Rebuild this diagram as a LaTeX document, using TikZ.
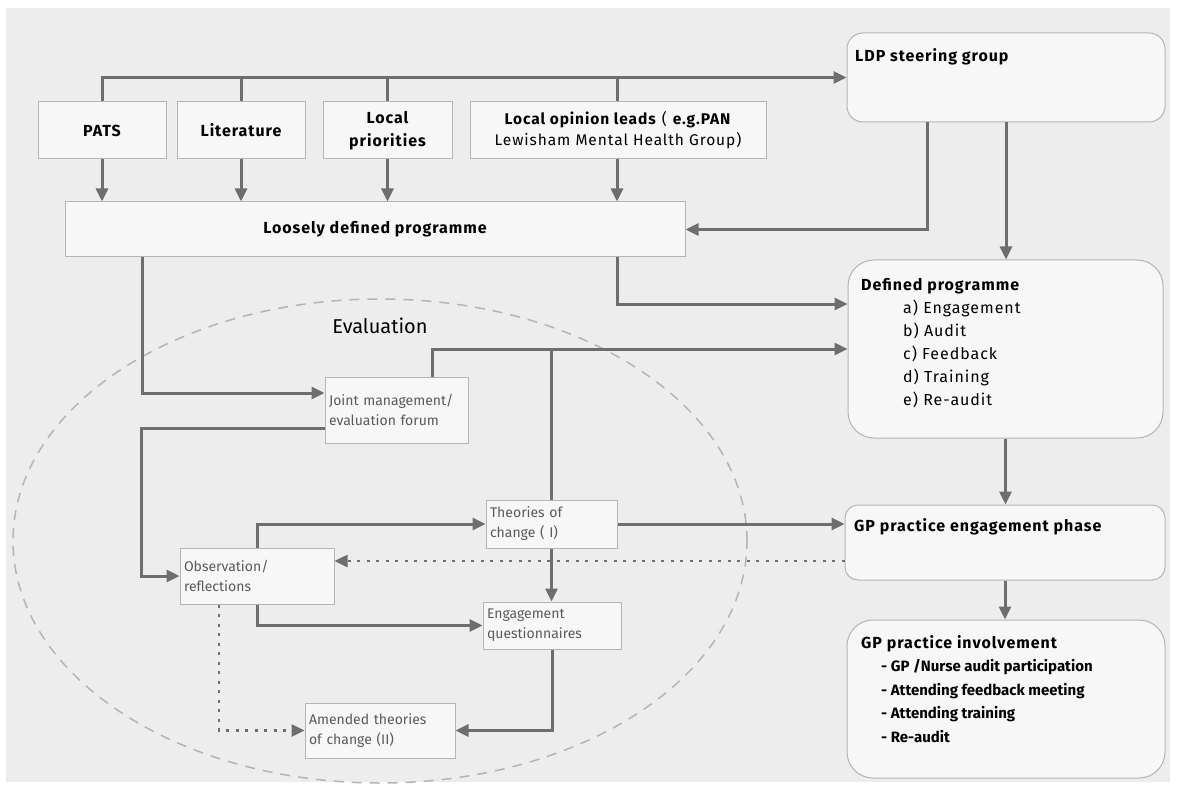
\documentclass[tikz,border=0pt]{standalone}
\usepackage{fontspec}
\setmainfont{Fira Sans}
\newfontfamily\widefont[LetterSpace=6]{Fira Sans}
\usetikzlibrary{arrows.meta}
\definecolor{bgcol}{HTML}{EDEDED}
\definecolor{boxfill}{HTML}{F7F7F7}
\definecolor{boxedge}{HTML}{B4B4B4}
\definecolor{arrcol}{HTML}{6E6E6E}
\definecolor{evaltext}{HTML}{5A5A5A}
\tikzset{
  sq/.style={draw=boxedge, fill=boxfill, line width=1pt, inner sep=0pt, align=center},
  rbox/.style={draw=boxedge, fill=boxfill, line width=1pt, rounded corners=16pt, inner sep=0pt},
  evalbox/.style={draw=boxedge, fill=boxfill, line width=1pt, inner sep=4pt, align=left,
     font=\fontsize{14}{20}\selectfont, text=evaltext},
  link/.style={draw=arrcol, line width=3pt},
  arr/.style={draw=arrcol, line width=3pt, -{Triangle[length=13pt,width=12pt]}},
  dotarr/.style={draw=arrcol, line width=2.5pt, dash pattern=on 3pt off 6.5pt, -{Triangle[length=13pt,width=12pt]}},
  boldtxt/.style={font=\widefont\fontsize{16}{23}\selectfont\bfseries},
  titletxt/.style={boldtxt, inner sep=0pt, anchor=west},
  listtxt/.style={font=\widefont\fontsize{16}{23}\selectfont, inner sep=0pt, anchor=north west, align=left},
}
\begin{document}
\begin{tikzpicture}[x=1pt, y=-1pt]
\useasboundingbox (0,0) rectangle (1177,786);
\fill[white] (0,0) rectangle (1177,786);
\fill[bgcol] (6,8) rectangle (1170,782);

% evaluation ellipse
\draw[boxedge, line width=1.5pt, dash pattern=on 10pt off 8pt] (380,541) ellipse [x radius=367pt, y radius=242pt];
\node[font=\fontsize{20}{22}\selectfont, inner sep=0pt] (evl) at (380,326) {Evaluation};

% top source boxes
\node[sq, boldtxt, minimum width=128pt, minimum height=57pt] (pats) at (102,130.5) {PATS};
\node[sq, boldtxt, minimum width=128pt, minimum height=57pt] (lit) at (241,130.5) {Literature};
\node[sq, boldtxt, minimum width=129pt, minimum height=57pt] (locpri) at (387.5,130.5) {Local\\priorities};
\node[sq, minimum width=296pt, minimum height=57pt, font=\widefont\fontsize{15.5}{21}\selectfont] (opin) at (618,130.5) {\textbf{Local opinion leads} ( \textbf{e.g.PAN}\\Lewisham Mental Health Group)};

\node[sq, boldtxt, minimum width=620pt, minimum height=55pt] (loose) at (375,229.5) {Loosely defined programme};

% right column
\node[rbox, minimum width=318pt, minimum height=89pt] (ldp) at (1006,77.5) {};
\node[titletxt] (ldpt) at (855,57) {LDP steering group};

\node[rbox, rounded corners=26pt, minimum width=315pt, minimum height=178pt] (defp) at (1005.5,349) {};
\node[listtxt] (defpt) at (861,278) {\textbf{Defined programme}\\
\hspace*{42pt}a) Engagement\\
\hspace*{42pt}b) Audit\\
\hspace*{42pt}c) Feedback\\
\hspace*{42pt}d) Training\\
\hspace*{42pt}e) Re-audit};

\node[rbox, rounded corners=13pt, minimum width=320pt, minimum height=75pt] (gpeng) at (1005,542.5) {};
\node[titletxt] (gpengt) at (854,527) {GP practice engagement phase};

\node[rbox, rounded corners=26pt, minimum width=318pt, minimum height=158pt] (gpinv) at (1006,699) {};
\node[listtxt, font=\fontsize{15}{23.5}\selectfont\bfseries] (gpinvt) at (861,635) {{\widefont\fontsize{16}{23.5}\selectfont GP practice involvement}\\
\hspace*{20pt}- GP /Nurse audit participation\\
\hspace*{20pt}- Attending feedback meeting\\
\hspace*{20pt}- Attending training\\
\hspace*{20pt}- Re-audit};

% evaluation boxes
\node[evalbox, minimum width=143pt, minimum height=66pt, text width=135pt] (joint) at (396.5,410) {Joint management/\\evaluation forum\\[-8pt]};
\node[evalbox, minimum width=131pt, minimum height=48pt, text width=123pt] (theo) at (551.5,524) {Theories of\\change ( I)};
\node[evalbox, minimum width=154pt, minimum height=56pt, text width=146pt] (obs) at (257,576) {Observation/\\reflections};
\node[evalbox, minimum width=138pt, minimum height=47pt, text width=130pt] (engq) at (552,625.5) {Engagement\\questionnaires};
\node[evalbox, minimum width=150pt, minimum height=55pt, text width=142pt] (amend) at (380,730.5) {Amended theories\\of change (II)};

% coordinates
\coordinate (dotlvl) at (0,561);

% connectors: top
\draw[arr] (pats.north) |- (ldp.west);
\draw[link] (lit.north) -- (lit.north |- ldp.west);
\draw[link] (locpri.north) -- (locpri.north |- ldp.west);
\draw[link] ([xshift=-1pt]opin.north) -- ([xshift=-1pt]opin.north |- ldp.west);

\draw[arr] (pats.south) -- (pats.south |- loose.north);
\draw[arr] (lit.south) -- (lit.south |- loose.north);
\draw[arr] (locpri.south) -- (locpri.south |- loose.north);
\draw[arr] ([xshift=-1pt]opin.south) -- ([xshift=-1pt]opin.south |- loose.north);

\draw[arr] ([xshift=-79pt]ldp.south) |- (loose.east);
\draw[arr] (ldp.south) -- (ldp.south |- defp.north);

\draw[arr] ([xshift=242pt]loose.south) |- ([yshift=45pt]defp.west);
\draw[arr] ([xshift=-233pt]loose.south) |- ([yshift=17pt]joint.west);

\draw[arr] ([xshift=35.5pt]joint.north) |- (defp.west);
\draw[link] (theo.north |- defp.west) -- (theo.north);
\draw[arr] (theo.south) -- (theo.south |- engq.north);

\draw[arr] ([yshift=-18pt]joint.west) -| ([xshift=-38pt]obs.west) -- (obs.west);
\draw[arr] (obs.north) |- (theo.west);
\draw[arr] (obs.south) |- (engq.west);

\draw[arr] (theo.east) -- (theo.east -| gpeng.west);
\draw[dotarr] (gpeng.west |- dotlvl) -- (obs.east |- dotlvl);
\draw[dotarr] ([xshift=-38pt]obs.south) |- (amend.west);
\draw[arr] (engq.south) |- (amend.east);

\draw[arr] (defp.south) -- (defp.south |- gpeng.north);
\draw[arr] (gpeng.south) -- (gpeng.south |- gpinv.north);
\end{tikzpicture}
\end{document}
